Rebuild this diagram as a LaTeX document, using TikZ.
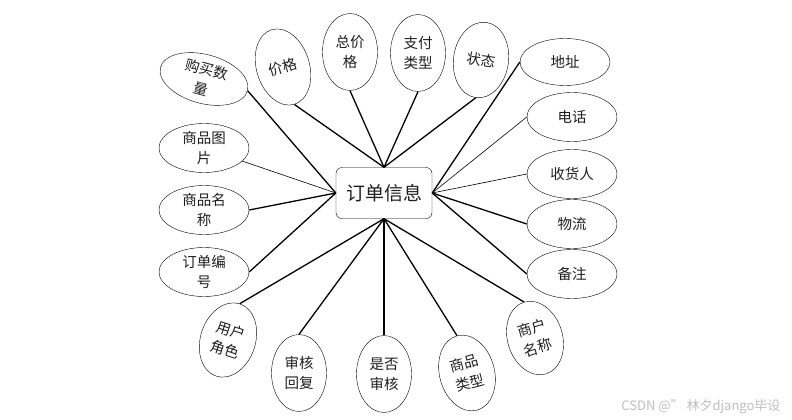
\documentclass[tikz,border=0pt]{standalone}
\usepackage{fontspec}
\setmainfont{Noto Sans CJK SC}
\usepackage{tikz}
\usetikzlibrary{shapes.geometric}
\definecolor{cText}{RGB}{30,30,30}
\definecolor{cMark}{RGB}{190,190,190}
\tikzset{
  ent/.style={draw=black, rounded corners=6pt, minimum width=96pt, minimum height=51pt,
              inner sep=0pt, font=\fontsize{19}{22}\selectfont, text=cText},
  attr/.style={draw=black, ellipse, inner sep=0pt, align=center,
               font=\fontsize{14.5}{20}\selectfont, text=cText},
  wide/.style={attr, minimum width=90pt, minimum height=49pt},
  tall/.style={attr, minimum width=55pt, minimum height=77pt},
  link/.style={line width=1.3pt},
  thin/.style={line width=0.6pt},
  wmark/.style={font=\fontsize{13}{15}\selectfont, text=cMark, anchor=east},
}
\begin{document}
\begin{tikzpicture}[x=1pt,y=-1pt]
  \useasboundingbox (0,0) rectangle (792,420);
  % entity
  \node[ent] (order) at (384,193) {订单信息};
  % upper attributes
  \node[wide, rotate=-15] (qty) at (204,79) {购买数\\量};
  \node[tall, minimum width=53pt, minimum height=78pt, rotate=17] (price) at (283,67) {价格};
  \node[tall] (total) at (350,52) {总价\\格};
  \node[tall] (paytype) at (418,53) {支付\\类型};
  \node[tall, minimum height=76pt, rotate=-8] (status) at (481,60) {状态};
  % right attributes
  \node[wide, minimum height=47pt] (addr) at (565,62) {地址};
  \node[wide] (phone) at (572,117) {电话};
  \node[wide] (receiver) at (572,174) {收货人};
  \node[wide] (logistics) at (572,224) {物流};
  \node[wide] (remark) at (572,274) {备注};
  % left attributes
  \node[wide] (pimg) at (204,148) {商品图\\片};
  \node[wide] (pname) at (204,210) {商品名\\称};
  \node[wide] (orderno) at (204,272) {订单编\\号};
  % lower attributes
  \node[tall, minimum height=76pt, rotate=-18] (role) at (228,340) {用户\\角色};
  \node[tall] (reply) at (299,373) {审核\\回复};
  \node[tall] (audited) at (384,374) {是否\\审核};
  \node[tall, rotate=15] (ptype) at (467,373) {商品\\类型};
  \node[tall, minimum height=75pt, rotate=17] (shop) at (535,338) {商户\\名称};

  \draw[link] (qty.east) -- (order.west);
  \draw[thin] (pimg) -- (order.west);
  \draw[link] (pname.east) -- (order.west);
  \draw[link] (orderno.east) -- (order.west);
  \foreach \a in {price,total,paytype,status}
    \draw[link] (\a.south) -- (order.north);
  \draw[link] (addr.west) -- (order.east);
  \draw[thin] (phone.west) -- (order.east);
  \draw[thin] (receiver.west) -- (order.east);
  \draw[link] (logistics.west) -- (order.east);
  \draw[link] (remark.west) -- (order.east);
  \foreach \a in {role,reply,audited,ptype,shop}
    \draw[link] (\a.north) -- (order.south);

  \node[wmark] (wm) at (784,407) {CSDN @” 林夕django毕设};
\end{tikzpicture}
\end{document}
